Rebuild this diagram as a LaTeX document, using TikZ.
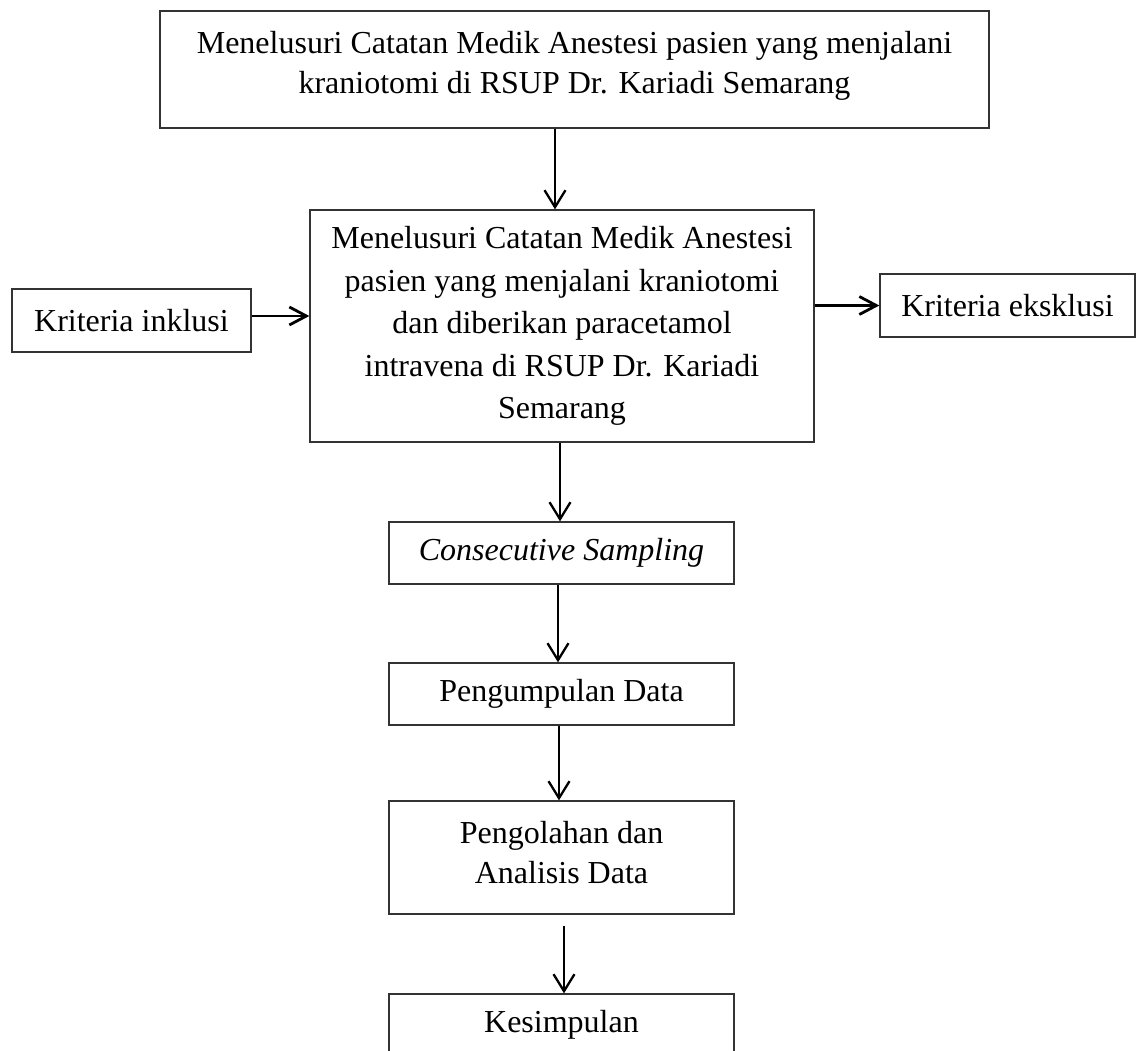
\documentclass[tikz,border=0pt]{standalone}
\usepackage{fontspec}
\setmainfont{Liberation Serif}
\usetikzlibrary{arrows.meta}

\tikzset{
  box/.style={draw=black!80,line width=.65pt,inner sep=0pt,align=center,
    font=\fontsize{16}{20}\selectfont},
  arr/.style={line width=1.15pt,-{Straight Barb[length=8.5pt,width=10.5pt]}},
  harr/.style={line width=1.4pt,-{Straight Barb[length=8.5pt,width=9pt]}}
}

\begin{document}
\begin{tikzpicture}[x=.5pt,y=-.5pt]
\useasboundingbox (0,0) rectangle (1137,1051);
\clip (0,0) rectangle (1137,1051);
\node[box,minimum width=414.5pt,minimum height=58.5pt,text depth=7pt] (top) at (574.5,69.5)
  {Menelusuri Catatan Medik Anestesi pasien yang menjalani\\kraniotomi di RSUP Dr. Kariadi Semarang};
\node[box,minimum width=252pt,minimum height=116pt,font=\fontsize{16}{21.3}\selectfont] (main) at (562,326)
  {Menelusuri Catatan Medik Anestesi\\pasien yang menjalani kraniotomi\\dan diberikan paracetamol\\intravena di RSUP Dr. Kariadi\\Semarang};
\node[box,minimum width=119.5pt,minimum height=31.5pt] (inklusi) at (131.5,320.5) {Kriteria inklusi};
\node[box,minimum width=127.5pt,minimum height=31.5pt] (eksklusi) at (1007.5,305.5) {Kriteria eksklusi};
\node[box,minimum width=172.5pt,minimum height=31pt] (sampling) at (561.5,553) {\textit{Consecutive Sampling}};
\node[box,minimum width=172.5pt,minimum height=31pt] (kumpul) at (561.5,694) {Pengumpulan Data};
\node[box,minimum width=172.5pt,minimum height=56.5pt,text depth=5.5pt] (olah) at (561.5,857.5)
  {Pengolahan dan\\Analisis Data};
\node[box,minimum width=172.5pt,minimum height=31pt] (simpul) at (561.5,1025) {Kesimpulan};
\draw[arr] ([xshift=-9.75pt]top.south) -- ([xshift=-9.75pt]top.south |- main.north);
\draw[arr] ([xshift=-1pt]main.south) -- ([xshift=-1pt]main.south |- sampling.north);
\draw[arr] ([xshift=-1.75pt]sampling.south) -- ([xshift=-1.75pt]sampling.south |- kumpul.north);
\draw[arr] ([xshift=-1.25pt]kumpul.south) -- ([xshift=-1.25pt]kumpul.south |- olah.north);
\draw[arr] ([xshift=1.25pt,yshift=-5.5pt]olah.south) -- ([xshift=1.25pt]olah.south |- simpul.north);
\draw[harr] ([yshift=2.25pt]inklusi.east) -- ([yshift=2.25pt]inklusi.east -| main.west);
\draw[harr] (main.east |- eksklusi.west) -- (eksklusi.west);
\end{tikzpicture}
\end{document}
